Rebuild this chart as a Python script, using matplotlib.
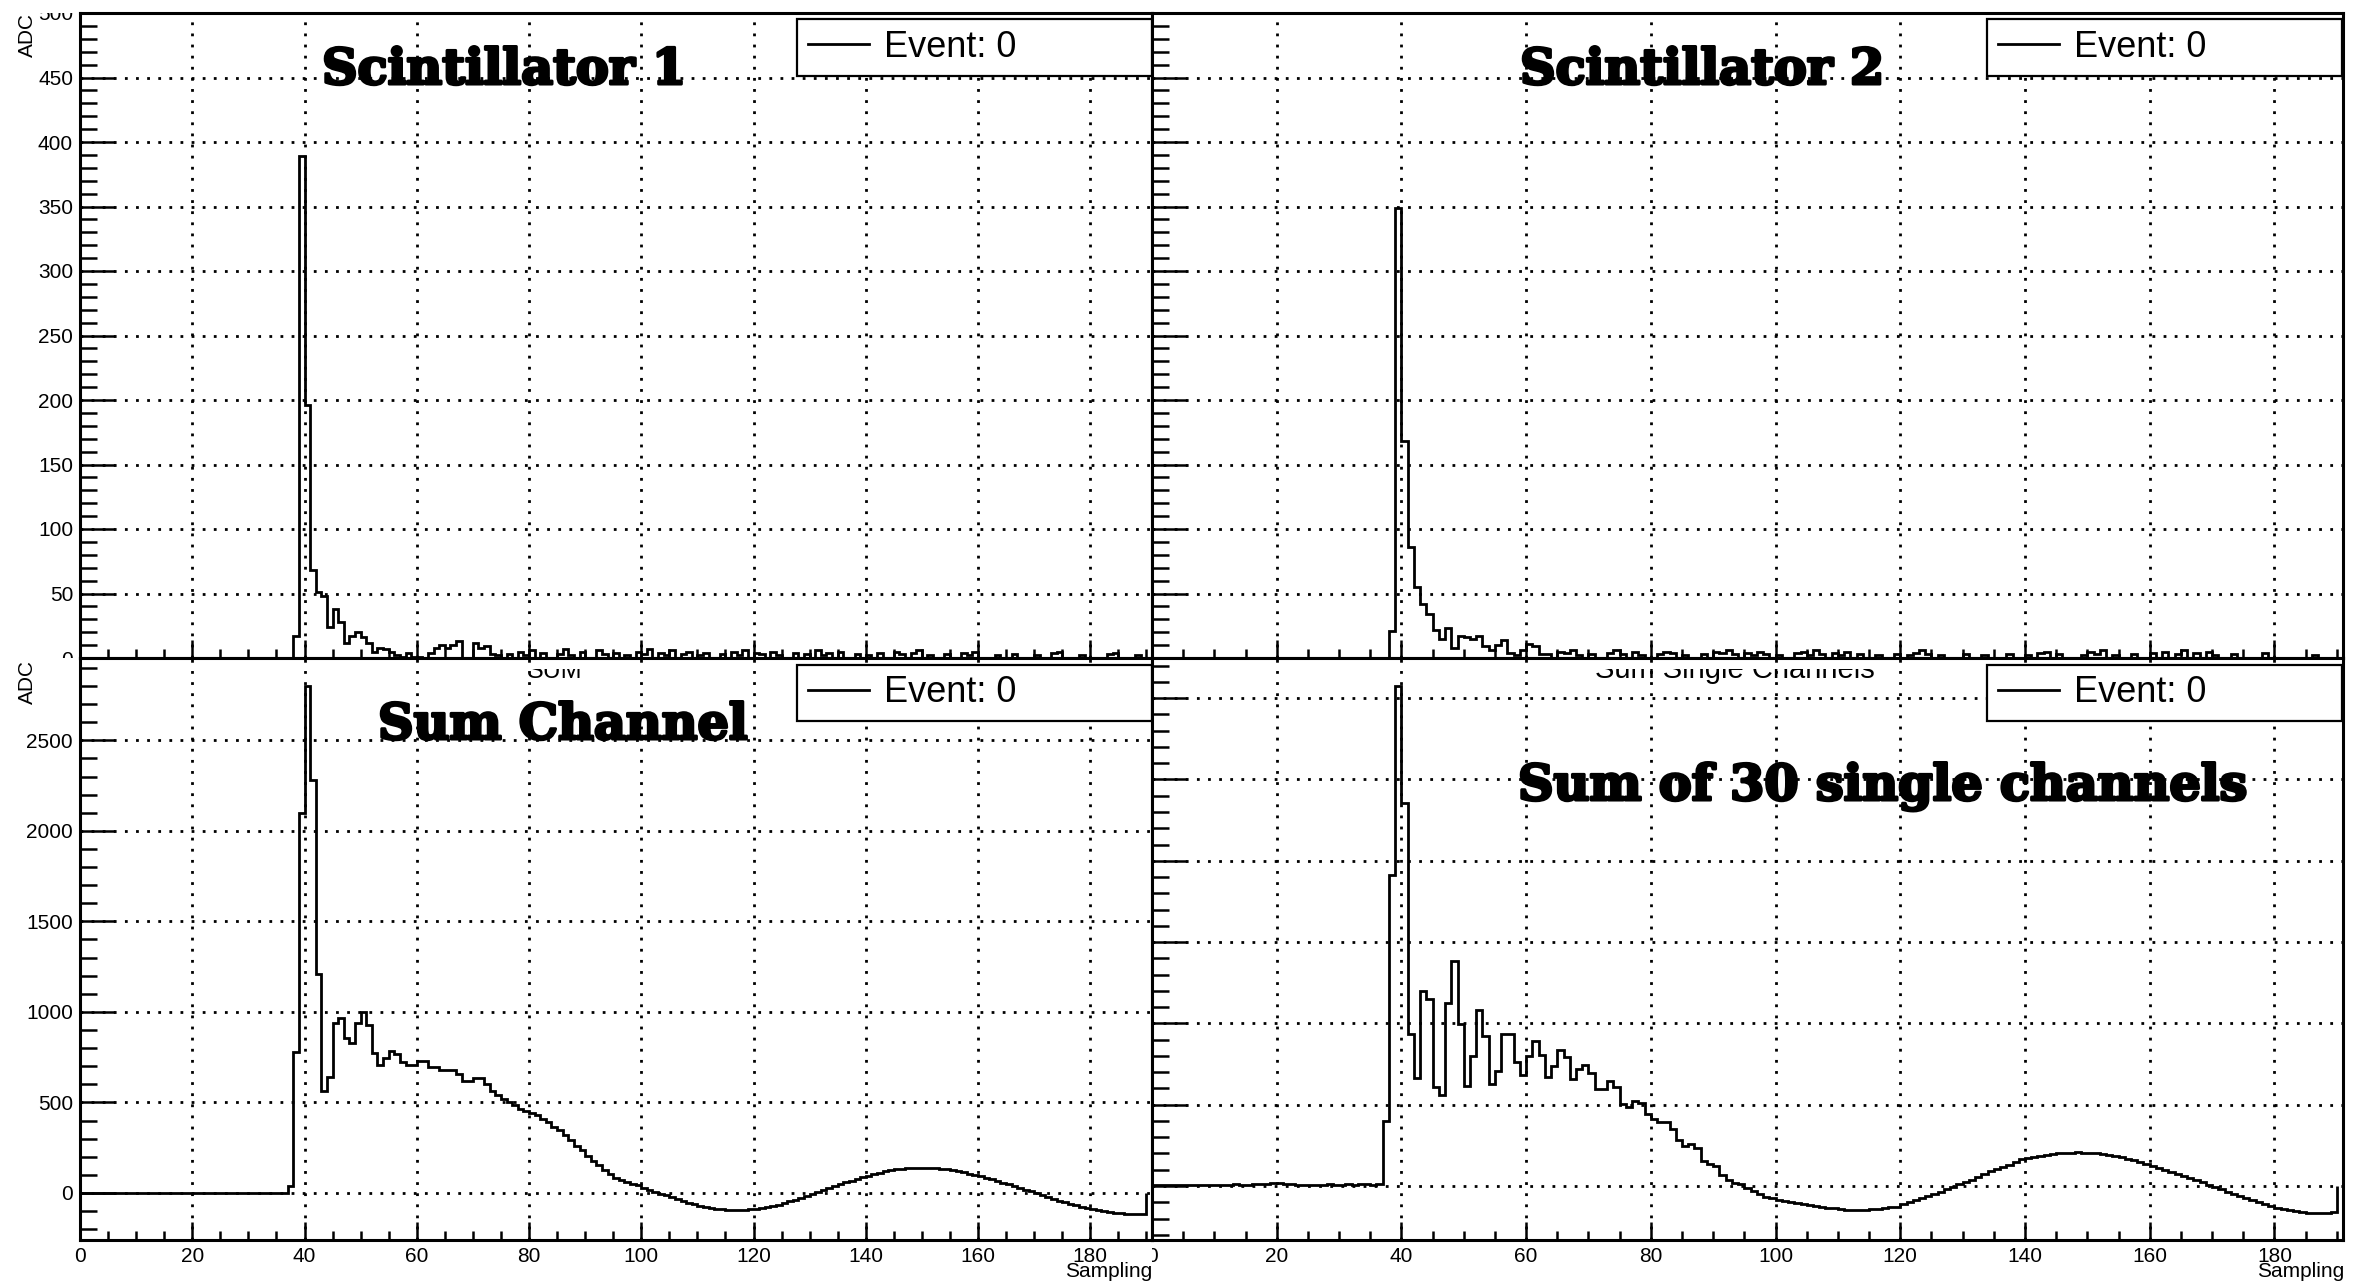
"""Four-pad scope view: two scintillators, the analog sum channel and the
software sum of the 30 single channels, one event each."""
import numpy as np
import matplotlib
matplotlib.use("Agg")
import matplotlib.pyplot as plt
import matplotlib.patheffects as pe
from matplotlib.lines import Line2D
from matplotlib.ticker import MultipleLocator
from matplotlib.transforms import Bbox, TransformedBbox

plt.rcParams["font.family"] = ["Liberation Sans", "DejaVu Sans"]

# one ADC value per sampling bin, bins 0..189
scint1 = [0] * 38 + [
    17, 389, 196, 68, 51, 48, 24, 38, 28, 12,
    17, 20, 16, 12, 5, 8, 7, 5, 2, 1,
    4, 1, 1, 0, 4, 8, 10, 8, 10, 13,
    0, 0, 12, 8, 9, 3, 2, 0, 3, 0,
    5, 2, 6, 0, 4, 0, 0, 3, 7, 2,
    0, 5, 0, 0, 6, 3, 0, 4, 0, 2,
    0, 5, 3, 7, 0, 4, 2, 6, 0, 3,
    5, 0, 2, 4, 0, 0, 3, 0, 5, 2,
    6, 0, 4, 3, 0, 5, 2, 0, 0, 4,
    0, 3, 0, 6, 2, 4, 0, 5, 0, 0,
    3, 0, 2, 0, 4, 0, 0, 5, 3, 0,
    4, 6, 0, 2, 0, 0, 3, 0, 0, 4,
    2, 5, 0, 0, 0, 2, 0, 0, 3, 0,
    0, 0, 2, 0, 0, 4, 5, 0, 0, 0,
    2, 0, 0, 0, 0, 3, 4, 0, 0, 0,
    2, 0,
]
scint2 = [0] * 38 + [
    21, 349, 168, 86, 55, 42, 34, 22, 15, 23,
    8, 17, 16, 15, 17, 9, 6, 10, 14, 4,
    2, 6, 11, 9, 3, 3, 0, 5, 4, 6,
    2, 0, 3, 0, 0, 4, 6, 3, 0, 5,
    2, 0, 0, 3, 5, 4, 0, 2, 0, 0,
    3, 0, 5, 4, 6, 3, 0, 4, 2, 5,
    3, 0, 2, 0, 0, 4, 5, 2, 6, 3,
    0, 4, 2, 5, 0, 3, 0, 0, 2, 0,
    0, 3, 0, 2, 4, 6, 3, 0, 2, 0,
    0, 0, 3, 0, 0, 2, 0, 0, 0, 3,
    0, 0, 2, 0, 4, 5, 0, 3, 0, 0,
    0, 2, 5, 3, 6, 0, 2, 0, 0, 3,
    0, 0, 4, 0, 5, 0, 3, 6, 0, 4,
    0, 5, 2, 0, 0, 3, 0, 0, 0, 0,
    4, 0, 0, 0, 0, 0, 0, 0, 2, 0,
    0, 0,
]
sum_channel = [
    0, 0, 0, 0, 0, 0, 0, 0, 0, 0,
    0, 0, 2, 0, 0, 0, -2, 0, 0, 0,
    0, 0, 0, 0, 2, 0, 0, 0, 0, 0,
    0, 0, 0, 0, 0, 0, 0, 40, 780, 2100,
    2800, 2280, 1210, 563, 643, 937, 968, 857, 830, 937,
    1002, 926, 771, 705, 746, 784, 765, 725, 705, 705,
    729, 729, 696, 696, 680, 680, 680, 657, 619, 619,
    635, 635, 600, 565, 540, 520, 505, 488, 465, 452,
    440, 428, 408, 390, 365, 345, 320, 290, 262, 235,
    205, 178, 152, 125, 102, 84, 72, 62, 52, 42,
    30, 18, 6, -4, -14, -24, -34, -44, -54, -63,
    -70, -76, -82, -86, -89, -92, -93, -94, -93, -91,
    -88, -84, -78, -72, -64, -56, -47, -38, -28, -18,
    -8, 4, 15, 26, 37, 48, 58, 68, 78, 87,
    96, 104, 112, 119, 125, 130, 134, 137, 139, 140,
    140, 139, 137, 134, 130, 125, 119, 113, 106, 99,
    91, 83, 75, 66, 57, 48, 38, 28, 18, 8,
    -2, -12, -22, -32, -42, -51, -60, -68, -76, -83,
    -90, -96, -101, -106, -110, -113, -116, -118, -118, -116,
]
sum_of_singles = [
    5, 6, 4, 7, 5, 4, 6, 8, 5, 7,
    9, 6, 8, 10, 9, 7, 10, 12, 14, 16,
    17, 14, 10, 8, 7, 9, 6, 8, 10, 7,
    9, 11, 8, 10, 12, 9, 10, 397, 1913, 3077,
    2357, 935, 666, 1199, 1148, 606, 562, 1126, 1386, 995,
    612, 797, 1082, 924, 628, 709, 935, 935, 760, 683,
    797, 891, 806, 672, 738, 836, 792, 661, 722, 744,
    694, 599, 599, 643, 606, 503, 486, 525, 510, 441,
    415, 393, 393, 353, 283, 243, 261, 232, 151, 134,
    123, 68, 40, 20, 10, -10, -30, -50, -66, -76,
    -85, -92, -96, -104, -110, -116, -122, -128, -134, -138,
    -142, -146, -148, -146, -148, -144, -140, -136, -130, -127,
    -112, -100, -88, -76, -64, -50, -36, -20, -4, 10,
    24, 40, 56, 72, 90, 104, 118, 132, 150, 164,
    172, 180, 186, 192, 196, 200, 204, 206, 208, 205,
    206, 200, 196, 190, 184, 176, 168, 158, 146, 134,
    122, 110, 98, 86, 74, 62, 48, 36, 22, 8,
    -6, -20, -34, -48, -62, -76, -88, -100, -112, -124,
    -134, -142, -150, -156, -160, -164, -168, -168, -166, -160,
]
bin_edges = np.arange(len(scint1) + 1)

titles = ["Scintillator 1", "Scintillator 2", "Sum Channel", "Sum of 30 single channels"]
legend_label = "Event: 0"

W, H = 2371, 1286


def rect(x0, y0, x1, y1):
    # pixel box measured from the top-left corner -> figure fraction rect
    return [x0 / W, 1 - y1 / H, (x1 - x0) / W, (y1 - y0) / H]


def fbox(x0, y0, x1, y1):
    return TransformedBbox(Bbox.from_extents(x0 / W, 1 - y1 / H, x1 / W, 1 - y0 / H),
                           fig.transFigure)


pads = [
    # values, pixel box, ylim, y major/minor, title (x, baseline), legend box
    (scint1, (80, 13, 1152, 658), (0, 500), (50, 10), (322, 84), (797, 18, 1152, 77)),
    (scint2, (1152, 13, 2343, 658), (0, 500), (50, 10), (1520, 84), (1987, 18, 2342, 77)),
    (sum_channel, (80, 658, 1152, 1240), (-260, 2955), (500, 100), (378, 739), (797, 662, 1152, 724)),
    (sum_of_singles, (1152, 658, 2343, 1240), (-332, 3247), (500, 100), (1518, 800), (1987, 662, 2342, 724)),
]

fig = plt.figure(figsize=(W / 100, H / 100), dpi=100)
axes = []
for i, (vals, box, ylim, (ymaj, ymin), (tx, ty), lbox) in enumerate(pads):
    ax = fig.add_axes(rect(*box))
    ax.stairs(vals, bin_edges, color="black", linewidth=2.0, baseline=0)
    ax.set_xlim(0, 191)
    ax.set_ylim(*ylim)
    ax.xaxis.set_major_locator(MultipleLocator(20))
    ax.xaxis.set_minor_locator(MultipleLocator(5))
    ax.yaxis.set_major_locator(MultipleLocator(ymaj))
    ax.yaxis.set_minor_locator(MultipleLocator(ymin))
    ax.grid(True, which="major", color="black", linestyle=(0, (1, 3)), linewidth=2.0)
    for sp in ax.spines.values():
        sp.set_linewidth(2.2)
    ax.tick_params(axis="both", which="both", direction="in", width=1.8,
                   top=False, right=False, labelsize=15, pad=5)
    ax.tick_params(axis="x", which="major", length=13)
    ax.tick_params(axis="x", which="minor", length=6.5)
    ax.tick_params(axis="y", which="major", length=25)
    ax.tick_params(axis="y", which="minor", length=12)
    ax.tick_params(labelbottom=i >= 2, labelleft=i % 2 == 0)

    fig.text(tx / W, 1 - ty / H, titles[i], ha="left", va="baseline",
             family="DejaVu Serif", weight="bold", fontsize=35.5,
             path_effects=[pe.withStroke(linewidth=2.2, foreground="black")])

    lx0, ly0, lx1, ly1 = lbox
    leg = ax.legend([Line2D([], [], color="black", linewidth=2.0)], [legend_label],
                    loc="center left", mode="expand",
                    bbox_to_anchor=(lx0 / W, 1 - ly1 / H, (lx1 - lx0) / W, (ly1 - ly0) / H),
                    bbox_transform=fig.transFigure, fontsize=26, borderpad=0.3,
                    handlelength=1.7, handletextpad=0.4, borderaxespad=0,
                    fancybox=False, framealpha=1)
    leg.get_frame().set_edgecolor("black")
    leg.get_frame().set_linewidth(1.6)
    axes.append(ax)

# axis titles, ROOT style: at the top of y and the right end of x
for y0 in (13, 660):
    fig.text(27 / W, 1 - y0 / H, "ADC", rotation=90, ha="center", va="top", fontsize=15)
for x1 in (1152, 2344):
    fig.text(x1 / W, 1 - 1262 / H, "Sampling", ha="right", va="top", fontsize=15)

# pad titles mostly hidden behind the upper pads
for txt, x0, size in (("SUM", 527, 18), ("Sum Single Channels", 1595, 21)):
    t = fig.text(x0 / W, 1 - 678 / H, txt, ha="left", va="baseline", fontsize=size)
    t.set_clip_box(fbox(0, 669, W, H))
    t.set_clip_on(True)

fig.canvas.draw()
for lbl in axes[0].get_yticklabels():
    lbl.set_clip_box(fbox(0, 13, W, 658))
    lbl.set_clip_on(True)
for lbl in axes[3].get_xticklabels():
    lbl.set_clip_box(fbox(1152, 0, W, H))
    lbl.set_clip_on(True)

fig.savefig("out.png", dpi=100)
